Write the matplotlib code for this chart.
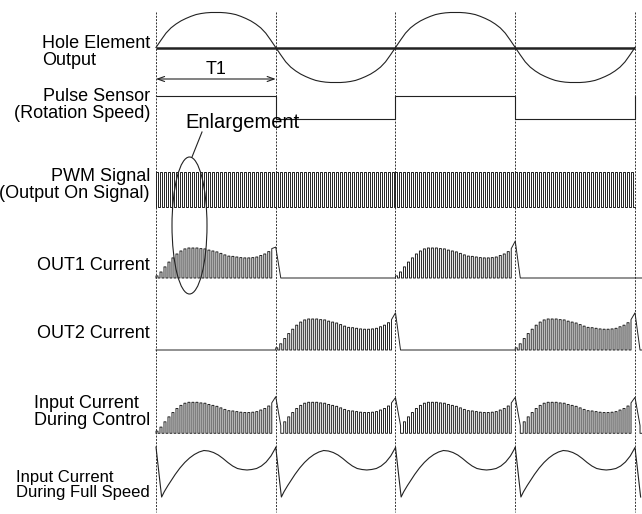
import matplotlib.pyplot as plt
from matplotlib.patches import Ellipse

plt.rcParams['font.family'] = ['Liberation Sans', 'DejaVu Sans']

# time is measured in units of T1 (half a rotation), 4 halves shown
n_half = 4
pulses_per_half = 30
pwm_duty = 0.5

# hall element output over one T1, fraction of peak (sign flips each half)
hall_t = [i / 24 for i in range(25)]
hall_v = [0, 0.21, 0.41, 0.56, 0.67, 0.76, 0.83, 0.89, 0.94, 0.97, 0.99, 1.0, 1.0,
          1.0, 0.99, 0.97, 0.94, 0.89, 0.83, 0.76, 0.67, 0.56, 0.41, 0.21, 0]

# pulse sensor level per half
pulse_level = [1, 0, 1, 0]

# current envelope, one value per PWM pulse in a half (fraction of peak)
envelope = [0.07, 0.20, 0.37, 0.53, 0.67, 0.80, 0.90, 0.97, 1.00, 1.00,
            1.00, 0.98, 0.97, 0.93, 0.90, 0.87, 0.82, 0.77, 0.73, 0.72,
            0.70, 0.68, 0.67, 0.67, 0.68, 0.70, 0.75, 0.80, 0.88, 0.98]

# which halves each coil conducts, and the commutation spike at the end
out1_on = [0, 2]
out2_on = [1, 3]
out1_spike = {0: 1.03, 2: 1.23}
out2_spike = {1: 1.20, 3: 1.20}
input_spike = {0: 1.18, 1: 1.15, 2: 1.16, 3: 1.16}
input_tail = 0.25

# input current at full speed over one T1
full_t = [0, 0.047, 0.07, 0.10, 0.13, 0.16, 0.20, 0.24, 0.28, 0.32, 0.36, 0.40, 0.44, 0.48,
          0.52, 0.56, 0.60, 0.64, 0.68, 0.72, 0.76, 0.80, 0.84, 0.88, 0.92, 0.96, 1.0]
full_i = [1.0, 0.0, 0.11, 0.23, 0.34, 0.45, 0.58, 0.69, 0.78, 0.85, 0.90, 0.93, 0.92, 0.89,
          0.84, 0.77, 0.69, 0.62, 0.57, 0.55, 0.54, 0.55, 0.57, 0.62, 0.70, 0.82, 0.99]

labels = [
    ("Hole Element\nOutput", 52, 'left', 13),
    ("Pulse Sensor\n(Rotation Speed)", 105, 'right', 13),
    ("PWM Signal\n(Output On Signal)", 185, 'right', 13),
    ("OUT1 Current", 265, 'right', 13),
    ("OUT2 Current", 333, 'right', 13),
    ("Input Current\nDuring Control", 412, 'left', 13),
    ("Input Current\nDuring Full Speed", 485, 'left', 12),
]

T1_PX = 119.75
X0 = 156
LC = '#222222'
LW = 0.8


def current_trace(active, spikes, tail=0.0):
    p = 1 / pulses_per_half
    ts, vs = [0.0], [0.0]
    t_last = 0.0
    for h in range(n_half):
        if h not in active:
            ts.append(h + 1)
            vs.append(0)
            t_last = h + 1
            continue
        for k, e in enumerate(envelope):
            t = h + k * p
            if t < t_last:
                continue
            if k < pulses_per_half - 1:
                ts += [t, t, t + pwm_duty * p, t + pwm_duty * p]
                vs += [0, e, e, 0]
            else:
                ts += [t, t, h + 1, h + 1 + 0.042]
                vs += [0, e, spikes[h], tail]
                t_last = h + 1 + 0.042
                if tail:
                    ts.append(t_last)
                    vs.append(0)
    ts.append(n_half + 0.06)
    vs.append(0)
    return ts, vs


fig = plt.figure(figsize=(6.42, 5.14), dpi=100)
ax = fig.add_axes([0, 0, 1, 1])
ax.set_xlim(-X0 / T1_PX, (642 - X0) / T1_PX)
ax.set_ylim(514, 0)
ax.axis('off')

# dashed commutation lines
ax.vlines(range(n_half + 1), 12, 512, colors='#333333', lw=0.7, linestyles=(0, (2, 1.4)))

# hall element output
ax.hlines(47.5, 0, n_half, colors=LC, lw=1.8)
ht, hv = [], []
for h in range(n_half):
    sgn = 1 if h % 2 == 0 else -1
    ht += [h + t for t in hall_t]
    hv += [47.5 - sgn * v * 35 for v in hall_v]
ax.plot(ht, hv, color=LC, lw=LW)

# pulse sensor
st, sv = [], []
for h, lv in enumerate(pulse_level):
    st += [h, h + 1]
    sv += [118.7 - lv * 23, 118.7 - lv * 23]
st.append(n_half)
sv.append(118.7 - pulse_level[0] * 23)
ax.plot(st, sv, color=LC, lw=LW)

# T1 arrow
ax.annotate('', xy=(0, 79), xytext=(1, 79),
            arrowprops=dict(arrowstyle='<->,head_length=0.5,head_width=0.18', lw=0.8,
                            color=LC, shrinkA=0, shrinkB=0))
ax.text(0.5, 70, "T1", ha='center', va='center', fontsize=13)

# PWM signal
p = 1 / pulses_per_half
pt, pv = [0.0], [206.7]
for j in range(n_half * pulses_per_half):
    t = j * p
    pt += [t, t, t + pwm_duty * p, t + pwm_duty * p]
    pv += [206.7, 171.7, 171.7, 206.7]
pt.append(n_half)
pv.append(206.7)
ax.plot(pt, pv, color=LC, lw=0.7)

# coil currents
for active, spikes, base, scale, tail in [(out1_on, out1_spike, 278, 30, 0.0),
                                          (out2_on, out2_spike, 350, 31, 0.0),
                                          (range(n_half), input_spike, 433.3, 31, input_tail)]:
    ct, cv = current_trace(active, spikes, tail)
    ax.plot(ct, [base - v * scale for v in cv], color=LC, lw=0.7)

# full speed input current
ft, fv = [], []
for h in range(n_half):
    ft += [h + t for t in full_t]
    fv += [497 - v * 50 for v in full_i]
ft.append(n_half + full_t[1])
fv.append(497 - full_i[1] * 50)
ax.plot(ft, fv, color=LC, lw=LW)

# enlargement callout
ax.add_patch(Ellipse(((189.5 - X0) / T1_PX, 225.5), 35 / T1_PX, 137,
                     fill=False, ec=LC, lw=LW))
ax.plot([(192 - X0) / T1_PX, (202 - X0) / T1_PX], [157, 132], color=LC, lw=LW)
ax.text((185 - X0) / T1_PX, 123, "Enlargement", ha='left', va='center', fontsize=14.5)

for txt, y, align, fs in labels:
    ax.text((150 - X0) / T1_PX, y, txt, ha='right', va='center',
            multialignment=align, fontsize=fs, linespacing=0.95)

fig.savefig('out.png', dpi=100)
